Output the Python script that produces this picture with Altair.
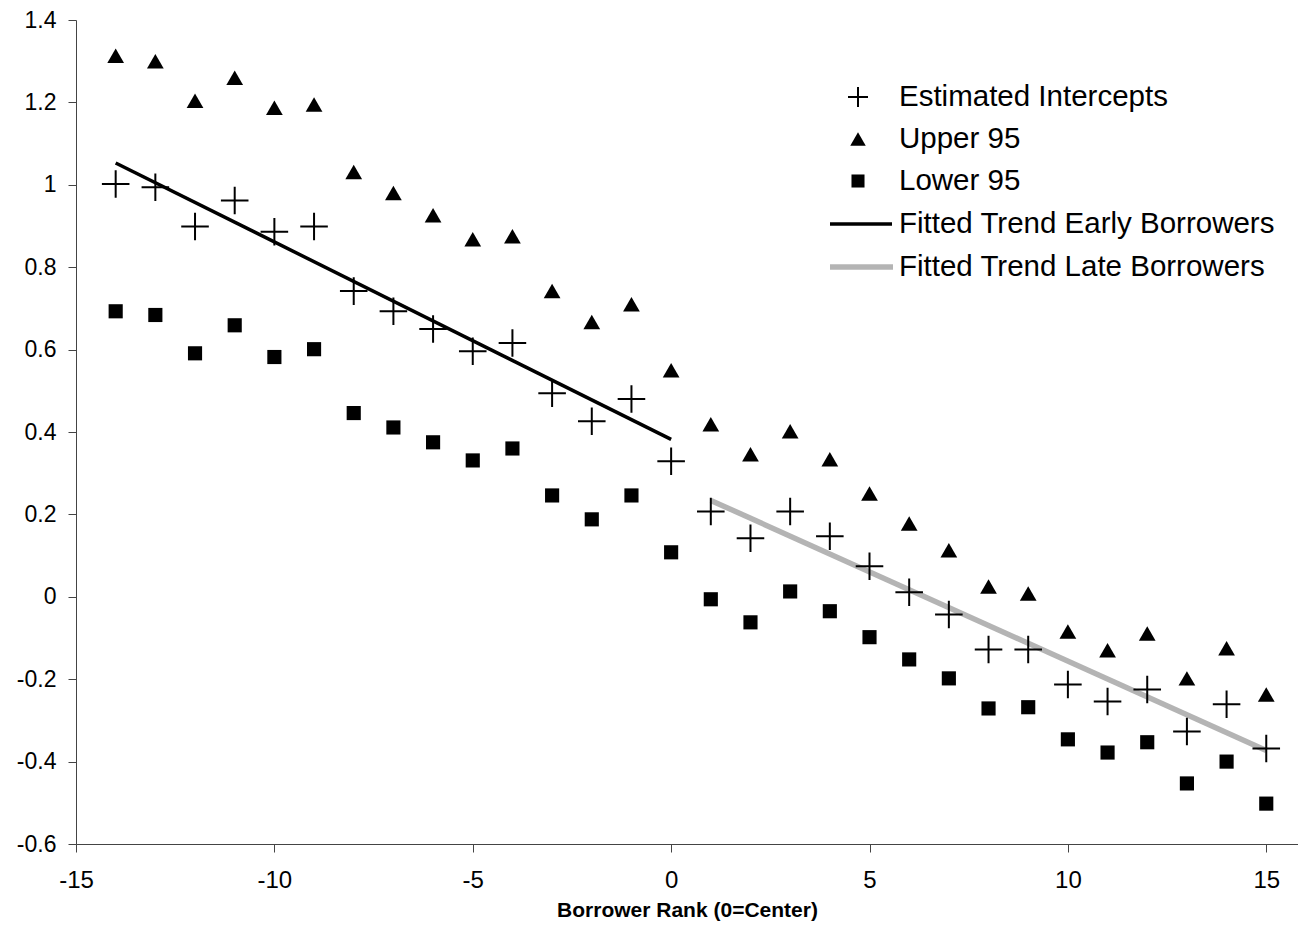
import altair as alt
import pandas as pd

# ---- data ----
ranks = list(range(-14, 16))
estimated = [1.002, 0.994, 0.899, 0.962, 0.886, 0.899, 0.742, 0.693, 0.650, 0.596,
             0.616, 0.494, 0.426, 0.480, 0.329, 0.207, 0.142, 0.207, 0.147, 0.074,
             0.011, -0.043, -0.128, -0.128, -0.213, -0.254, -0.225, -0.327, -0.261, -0.368]
upper95 = [1.313, 1.300, 1.204, 1.260, 1.187, 1.195, 1.031, 0.980, 0.926, 0.868,
           0.875, 0.742, 0.667, 0.710, 0.550, 0.419, 0.346, 0.402, 0.334, 0.251,
           0.178, 0.113, 0.025, 0.008, -0.084, -0.130, -0.089, -0.198, -0.125, -0.237]
lower95 = [0.693, 0.684, 0.591, 0.659, 0.582, 0.601, 0.446, 0.411, 0.375, 0.331,
           0.360, 0.246, 0.188, 0.246, 0.108, -0.006, -0.062, 0.013, -0.035, -0.098,
           -0.152, -0.198, -0.271, -0.268, -0.346, -0.378, -0.353, -0.453, -0.400, -0.502]
early_x = [-14, 0]
early_y = [1.053, 0.382]
late_x = [1, 15]
late_y = [0.234, -0.373]

x_ticks = [-15, -10, -5, 0, 5, 10, 15]
y_ticks = [-0.6, -0.4, -0.2, 0, 0.2, 0.4, 0.6, 0.8, 1.0, 1.2, 1.4]

legend_labels = ["Estimated Intercepts", "Upper 95", "Lower 95",
                 "Fitted Trend Early Borrowers", "Fitted Trend Late Borrowers"]

FONT = "Liberation Sans"
CROSS = "M-1,0H1M0,-1V1"
GRAY = "#b4b4b4"

label_expr = "datum.value < 0 ? '-' + format(abs(datum.value), '~g') : format(datum.value, '~g')"

x_enc = alt.X("rank:Q",
              scale=alt.Scale(domain=[-15, 15.8], nice=False, zero=False),
              axis=alt.Axis(values=x_ticks, labelExpr=label_expr, grid=False,
                            title="Borrower Rank (0=Center)", titleFontSize=21,
                            titleFontWeight="bold", titlePadding=7,
                            labelFontSize=24, labelPadding=16, tickSize=8,
                            labelFlush=False))
y_enc = alt.Y("value:Q",
              scale=alt.Scale(domain=[-0.6, 1.4], nice=False, zero=False),
              axis=alt.Axis(values=y_ticks, labelExpr=label_expr, grid=False,
                            title=None, labelFontSize=23, labelPadding=12,
                            tickSize=8, labelFlush=False))

df_est = pd.DataFrame({"rank": ranks, "value": estimated})
df_up = pd.DataFrame({"rank": ranks, "value": upper95})
df_lo = pd.DataFrame({"rank": ranks, "value": lower95})
df_early = pd.DataFrame({"rank": early_x, "value": early_y})
df_late = pd.DataFrame({"rank": late_x, "value": late_y})

early = alt.Chart(df_early).mark_line(color="black", strokeWidth=3.5).encode(x=x_enc, y=y_enc)
late = alt.Chart(df_late).mark_line(color=GRAY, strokeWidth=5.5).encode(x=x_enc, y=y_enc)
up = alt.Chart(df_up).mark_point(shape="triangle-up", filled=True, color="black",
                                  size=280, opacity=1).encode(x=x_enc, y=y_enc)
lo = alt.Chart(df_lo).mark_point(shape="square", filled=True, color="black",
                                  size=200, opacity=1).encode(x=x_enc, y=y_enc)
est = alt.Chart(df_est).mark_point(shape=CROSS, filled=False, color="black",
                                   strokeWidth=2, size=760, opacity=1).encode(x=x_enc, y=y_enc)

# ---- manual legend (pixel positions inside plot area) ----
lg_base = alt.Chart(pd.DataFrame({"k": [0]}))
sym_x = 782
rows_y = [77, 119, 161, 204, 247]
lg = []
lg.append(lg_base.mark_point(shape=CROSS, filled=False, color="black", strokeWidth=2,
                             size=400, opacity=1).encode(x=alt.value(sym_x), y=alt.value(rows_y[0])))
lg.append(lg_base.mark_point(shape="triangle-up", filled=True, color="black",
                             size=240, opacity=1).encode(x=alt.value(sym_x), y=alt.value(rows_y[1])))
lg.append(lg_base.mark_point(shape="square", filled=True, color="black",
                             size=170, opacity=1).encode(x=alt.value(sym_x), y=alt.value(rows_y[2])))
lg.append(lg_base.mark_rule(color="black", strokeWidth=3.5).encode(
    x=alt.value(754), x2=alt.value(816), y=alt.value(rows_y[3])))
lg.append(lg_base.mark_rule(color=GRAY, strokeWidth=5.5).encode(
    x=alt.value(754), x2=alt.value(817), y=alt.value(rows_y[4])))
for lab, yy in zip(legend_labels, rows_y):
    lg.append(lg_base.mark_text(align="left", baseline="middle", fontSize=29.5, font=FONT,
                                color="black").encode(x=alt.value(823), y=alt.value(yy),
                                                      text=alt.value(lab)))

chart = alt.layer(early, late, up, lo, est, *lg).properties(
    width=1222, height=824,
    autosize=alt.AutoSizeParams(type="none"),
    padding={"left": 68, "top": 12, "right": 0, "bottom": 79},
    background="white",
).configure_view(stroke=None).configure_axis(
    domainColor="#444444", tickColor="#444444", labelColor="black", titleColor="black",
    labelFont=FONT, titleFont=FONT, domainWidth=1, tickWidth=1,
)

chart.save("out.html", embed_options={"renderer": "svg", "actions": False})
